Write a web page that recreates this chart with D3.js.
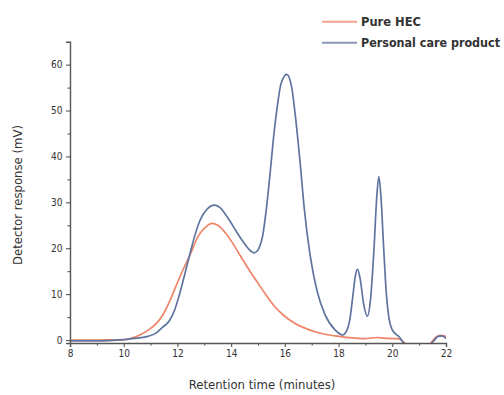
<!DOCTYPE html>
<html>
<head>
<meta charset="utf-8">
<script src="https://cdn.jsdelivr.net/npm/d3@7"></script>
<style>
  html, body { margin: 0; padding: 0; background: #fff; }
  svg { display: block; }
  .cond { font-family: "Liberation Sans Narrow", "DejaVu Sans Condensed", "Roboto", sans-serif; }
</style>
</head>
<body>
<svg id="chart" width="504" height="395"></svg>
<script>
// ---- data ----
const seriesNames = ["Pure HEC", "Personal care product"];
const seriesColors = ["#f08468", "#5f739f"];

const hecTime  = [8.0, 9.0, 10.0, 10.3, 10.6, 10.9, 11.2, 11.45, 11.7, 11.95, 12.2, 12.45, 12.8, 13.05, 13.28, 13.5, 13.75, 14.0, 14.36, 14.7, 15.0, 15.3, 15.62, 15.95, 16.38, 16.7, 17.12, 17.5, 17.87, 18.2, 18.55, 19.0, 19.25, 19.45, 19.7, 20.0, 20.25, 20.42, 20.6, 21.3, 21.5, 21.65, 21.8, 21.95, 22.0];
const hecValue = [0.0, 0.0, 0.05, 0.4, 1.1, 2.1, 3.5, 5.4, 8.3, 11.8, 15.2, 18.3, 22.9, 24.6, 25.4, 25.0, 23.6, 21.6, 18.2, 15.0, 12.4, 9.8, 7.3, 5.4, 3.6, 2.7, 1.8, 1.25, 0.9, 0.65, 0.45, 0.3, 0.45, 0.55, 0.4, 0.3, 0.25, -0.4, -1.5, -1.5, -0.2, 0.7, 1.0, 0.9, 0.7];

const pcpTime  = [8.0, 9.0, 10.0, 10.5, 10.9, 11.2, 11.45, 11.7, 11.9, 12.05, 12.25, 12.45, 12.65, 12.85, 13.1, 13.38, 13.6, 13.8, 14.0, 14.2, 14.4, 14.6, 14.75, 14.85, 14.97, 15.07, 15.17, 15.32, 15.45, 15.57, 15.7, 15.86, 16.07, 16.25, 16.38, 16.56, 16.72, 16.94, 17.19, 17.49, 17.87, 18.15, 18.3, 18.42, 18.53, 18.62, 18.7, 18.8, 18.93, 19.07, 19.2, 19.32, 19.42, 19.5, 19.58, 19.68, 19.78, 19.87, 20.0, 20.15, 20.3, 20.42, 20.6, 21.3, 21.48, 21.6, 21.7, 21.85, 22.0];
const pcpValue = [-0.2, -0.2, 0.1, 0.4, 0.8, 1.5, 2.8, 4.2, 6.6, 9.4, 13.8, 18.4, 22.8, 26.2, 28.5, 29.4, 28.8, 27.3, 25.5, 23.6, 21.8, 20.2, 19.3, 19.0, 19.4, 20.5, 22.6, 29.0, 36.3, 43.6, 50.1, 55.9, 57.9, 55.2, 49.4, 39.2, 28.8, 18.5, 10.9, 5.6, 2.2, 1.1, 2.0, 4.5, 9.5, 13.8, 15.4, 13.5, 8.0, 5.2, 9.5, 20.0, 31.0, 35.6, 31.0, 20.0, 10.0, 5.0, 2.2, 1.2, 0.4, -0.7, -1.5, -1.5, -0.6, 0.2, 0.8, 0.9, 0.3];

const xTicks = [8, 10, 12, 14, 16, 18, 20, 22];
const xMinorTicks = [9, 11, 13, 15, 17, 19, 21];
const yTicks = [0, 10, 20, 30, 40, 50, 60];
const yMinorTicks = [5, 15, 25, 35, 45, 55];
const xTitle = "Retention time (minutes)";
const yTitle = "Detector response (mV)";

// ---- drawing ----
const svg = d3.select("#chart");
const x = d3.scaleLinear().domain([8, 22]).range([70, 446]);
const y = d3.scaleLinear().domain([-0.65, 65]).range([343, 41.7]);

const axisColor = "#555";
const textColor = "#333";

svg.append("defs").append("clipPath").attr("id", "plotclip")
  .append("rect").attr("x", 70).attr("y", 41.7).attr("width", 376).attr("height", 301.3);

const line = d3.line().x(d => x(d[0])).y(d => y(d[1])).curve(d3.curveMonotoneX);

const series = [
  d3.zip(hecTime, hecValue),
  d3.zip(pcpTime, pcpValue)
];

const plot = svg.append("g").attr("clip-path", "url(#plotclip)");
series.forEach((s, i) => {
  plot.append("path").datum(s)
    .attr("d", line)
    .attr("fill", "none")
    .attr("stroke", seriesColors[i])
    .attr("stroke-width", 1.7)
    .attr("stroke-linejoin", "round");
});

// X axis
svg.append("g").attr("transform", `translate(0,${y.range()[0]})`)
  .call(d3.axisBottom(x).tickValues(xTicks).tickSize(4).tickPadding(3).tickFormat(d3.format("d")));
svg.append("g").attr("transform", `translate(0,${y.range()[0]})`)
  .call(d3.axisBottom(x).tickValues(xMinorTicks).tickSize(2.5).tickFormat(""))
  .call(g => g.select(".domain").remove());

// Y axis
svg.append("g").attr("transform", `translate(${x.range()[0]},0)`)
  .call(d3.axisLeft(y).tickValues(yTicks).tickSize(4).tickPadding(3.5).tickFormat(d3.format("d")));
svg.append("g").attr("transform", `translate(${x.range()[0]},0)`)
  .call(d3.axisLeft(y).tickValues(yMinorTicks).tickSize(2.5).tickFormat(""))
  .call(g => g.select(".domain").remove());

svg.selectAll(".domain").attr("stroke", axisColor).attr("stroke-width", 1.4);
svg.selectAll(".tick line").attr("stroke", axisColor).attr("stroke-width", 1.1);
svg.selectAll(".tick text").attr("class", "cond").attr("font-size", 10).attr("fill", textColor);

// Axis titles
svg.append("text").attr("class", "cond")
  .attr("x", 262).attr("y", 389)
  .attr("text-anchor", "middle").attr("font-size", 13).attr("fill", textColor)
  .text(xTitle);
svg.append("text").attr("class", "cond")
  .attr("transform", "translate(22,195) rotate(-90)")
  .attr("text-anchor", "middle").attr("font-size", 13).attr("fill", textColor)
  .text(yTitle);

// Legend
const legendWidths = [60, 139];
const legend = svg.append("g");
seriesNames.forEach((name, i) => {
  const ly = 21.7 + i * 21;
  legend.append("line")
    .attr("x1", 322).attr("x2", 357).attr("y1", ly).attr("y2", ly)
    .attr("stroke", seriesColors[i]).attr("stroke-width", 2).attr("stroke-opacity", 0.75);
  legend.append("text").attr("class", "cond")
    .attr("x", 361).attr("y", ly + 4.5)
    .attr("font-size", 12.5).attr("font-weight", "bold").attr("fill", textColor)
    .attr("textLength", legendWidths[i]).attr("lengthAdjust", "spacingAndGlyphs")
    .text(name);
});
</script>
</body>
</html>
